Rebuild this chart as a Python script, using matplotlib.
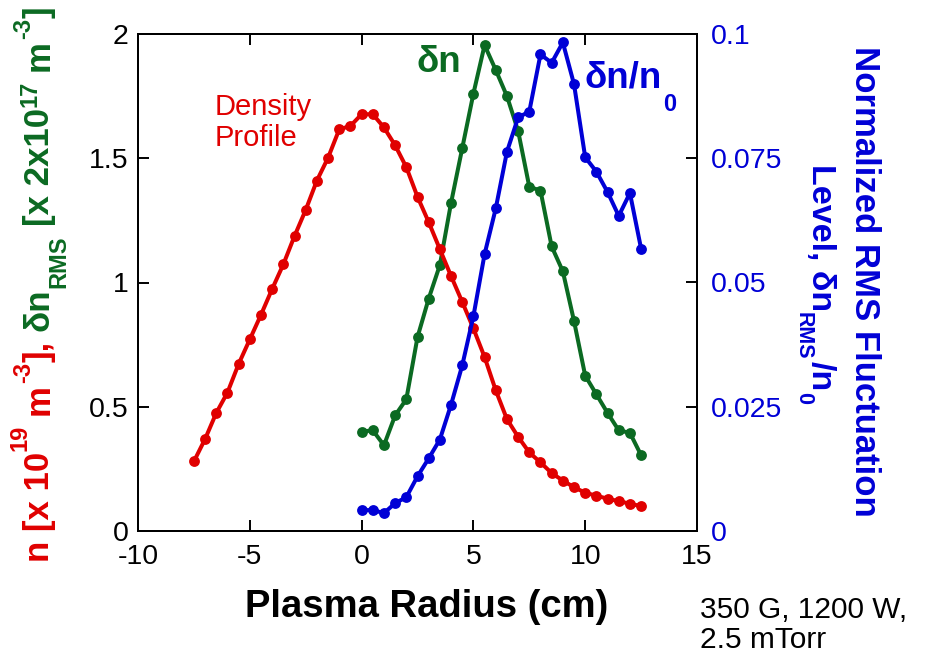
import matplotlib
matplotlib.use("Agg")
import matplotlib.pyplot as plt
from matplotlib.ticker import FuncFormatter, MultipleLocator

# ─────────────────────────────────────────────────────────────
# data
# ─────────────────────────────────────────────────────────────
radius_density = [-7.5, -7, -6.5, -6, -5.5, -5, -4.5, -4, -3.5, -3, -2.5, -2,
                  -1.5, -1, -0.5, 0, 0.5, 1, 1.5, 2, 2.5, 3, 3.5, 4, 4.5, 5,
                  5.5, 6, 6.5, 7, 7.5, 8, 8.5, 9, 9.5, 10, 10.5, 11, 11.5, 12, 12.5]
density = [0.28, 0.37, 0.475, 0.557, 0.672, 0.771, 0.87, 0.974, 1.073, 1.187,
           1.292, 1.41, 1.502, 1.616, 1.63, 1.677, 1.677, 1.624, 1.552, 1.464,
           1.345, 1.243, 1.134, 1.026, 0.922, 0.815, 0.70, 0.566, 0.45, 0.379,
           0.316, 0.276, 0.233, 0.203, 0.176, 0.154, 0.142, 0.13, 0.12, 0.11, 0.10]

radius_fluct = [0, 0.5, 1, 1.5, 2, 2.5, 3, 3.5, 4, 4.5, 5, 5.5, 6, 6.5, 7, 7.5,
                8, 8.5, 9, 9.5, 10, 10.5, 11, 11.5, 12, 12.5]
dn_rms = [0.40, 0.405, 0.345, 0.465, 0.53, 0.78, 0.935, 1.07, 1.32, 1.54, 1.76,
          1.955, 1.855, 1.75, 1.61, 1.385, 1.37, 1.145, 1.045, 0.845, 0.625,
          0.55, 0.475, 0.405, 0.395, 0.305]
dn_norm = [0.0042, 0.0042, 0.0036, 0.0056, 0.0068, 0.011, 0.0146, 0.0184,
           0.0254, 0.0333, 0.0432, 0.0557, 0.0649, 0.0763, 0.0832, 0.0844,
           0.0959, 0.0942, 0.0983, 0.0899, 0.0752, 0.0723, 0.0682, 0.0634,
           0.068, 0.0568]

x_ticks = [-10, -5, 0, 5, 10, 15]

RED = "#e00000"
GREEN = "#0b6a22"
BLUE = "#0000d6"

W, H = 926, 662

plt.rcParams["font.family"] = ["Liberation Sans", "DejaVu Sans"]


def px(x, y):
    """pixel position (from top-left) -> figure fraction"""
    return x / W, 1 - y / H


# ─────────────────────────────────────────────────────────────
# axes
# ─────────────────────────────────────────────────────────────
fig = plt.figure(figsize=(W / 100, H / 100), dpi=100)
ax = fig.add_axes([138 / W, 1 - 531 / H, (697 - 138) / W, (531 - 34) / H])
ax2 = ax.twinx()

line_kw = dict(marker="o", lw=2.9, ms=7.8, mew=0)
ax.plot(radius_fluct, dn_rms, color=GREEN, **line_kw)
ax.plot(radius_density, density, color=RED, **line_kw)
ax2.plot(radius_fluct, dn_norm, color=BLUE, **line_kw)

ax.set_xlim(-10, 15)
ax.set_ylim(0, 2)
ax2.set_ylim(0, 0.1)
ax.set_xticks(x_ticks)
ax.yaxis.set_major_locator(MultipleLocator(0.5))
ax2.yaxis.set_major_locator(MultipleLocator(0.025))
fmt = FuncFormatter(lambda v, _: f"{v:g}")
ax.xaxis.set_major_formatter(fmt)
ax.yaxis.set_major_formatter(fmt)
ax2.yaxis.set_major_formatter(fmt)

for a in (ax, ax2):
    for s in a.spines.values():
        s.set_linewidth(1.4)
ax.tick_params(direction="in", length=8, width=1.4, labelsize=20.5, top=True)
ax.tick_params(axis="y", pad=7)
ax.tick_params(axis="x", pad=9)
ax2.tick_params(direction="in", length=8, width=1.4, labelsize=20.5,
                labelcolor=BLUE, pad=10)

# ─────────────────────────────────────────────────────────────
# text runs with hand-placed super/subscripts
# ─────────────────────────────────────────────────────────────
renderer = fig.canvas.get_renderer()
DIRS = {0: ((1, 0), (0, 1)), 90: ((0, 1), (-1, 0)), -90: ((0, -1), (1, 0))}


def text_run(pieces, x, y, angle=0, centered=True):
    """pieces: (text, fontsize, shift_px, gap_px, color); x, y in image pixels
    at the baseline. shift > 0 raises (superscript), < 0 lowers (subscript)."""
    widths = []
    for s, size, _, _, _ in pieces:
        t = fig.text(0, 0, s, fontsize=size, fontweight="bold")
        widths.append(t.get_window_extent(renderer).width)
        t.remove()
    total = sum(widths) + sum(p[3] for p in pieces)
    (dx, dy), (ux, uy) = DIRS[angle]
    x0, y0 = x, H - y
    if centered:
        x0, y0 = x0 - dx * total / 2, y0 - dy * total / 2
    cum = 0
    for (s, size, shift, gap, color), w in zip(pieces, widths):
        cum += gap
        px_, py_ = x0 + dx * cum + ux * shift, y0 + dy * cum + uy * shift
        fig.text(px_ / W, py_ / H, s, fontsize=size, fontweight="bold",
                 color=color, rotation=angle, rotation_mode="anchor",
                 ha="left", va="baseline")
        cum += w


BIG, SMALL, SP = 25, 17, 9.5

# left label: n [x 10^19 m^-3], dn_RMS [x 2x10^17 m^-3]
text_run([
    ("n [x 10", BIG, 0, 0, RED),
    ("19", SMALL, 23, 1, RED),
    ("m", BIG, 0, SP, RED),
    ("-3", SMALL, 19, 1, RED),
    ("],", BIG, 0, 0, RED),
    ("δn", BIG, 0, SP, GREEN),
    ("RMS", SMALL, -16, 1, GREEN),
    ("[x 2x10", BIG, 0, SP, GREEN),
    ("17", SMALL, 12, 1, GREEN),
    ("m", BIG, 0, SP, GREEN),
    ("-3", SMALL, 19, 1, GREEN),
    ("]", BIG, 0, 0, GREEN),
], 49, 284, angle=90)

# right label (two lines, reading downwards)
fig.text(*px(855, 281), "Normalized RMS Fluctuation", fontsize=25,
         fontweight="bold", color=BLUE, rotation=-90, rotation_mode="anchor",
         ha="center", va="baseline")
text_run([
    ("Level, δn", 24.5, 0, 0, BLUE),
    ("RMS", 15.5, -14, 1, BLUE),
    ("/n", 24.5, 0, 1, BLUE),
    ("0", 15.5, -14, 1, BLUE),
], 812, 284, angle=-90)

fig.text(*px(427, 617), "Plasma Radius (cm)", fontsize=27.5, fontweight="bold",
         ha="center", va="baseline")

fig.text(*px(215, 93), "Density\nProfile", fontsize=21, color=RED,
         ha="left", va="top", linespacing=1.12)
fig.text(*px(417, 72), "δn", fontsize=26.5, fontweight="bold", color=GREEN,
         ha="left", va="baseline")
text_run([
    ("δn/n", 26.5, 0, 0, BLUE),
    ("0", 17, -23, 1, BLUE),
], 585, 88, angle=0, centered=False)

fig.text(*px(700, 596), "350 G, 1200 W,\n2.5 mTorr", fontsize=21.5,
         ha="left", va="top", linespacing=1.1)

fig.savefig("out.png", dpi=100)
